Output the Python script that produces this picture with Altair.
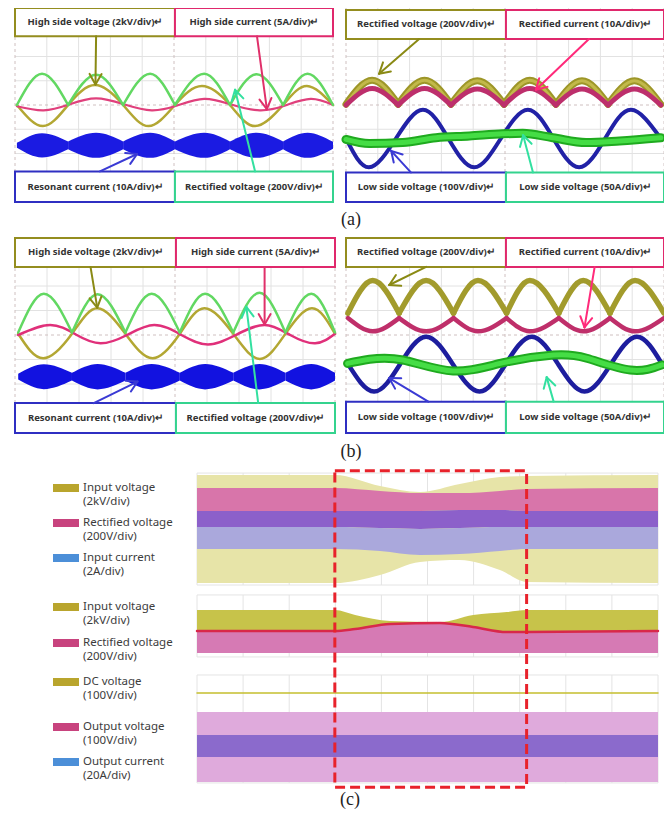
import math
import numpy as np
import altair as alt
import pandas as pd

# ====================== DATA (oscillogram readings, div units) ======================
# ---- (a) left : high side ----
AL_LABELS = ["High side voltage (2kV/div)↵", "High side current (5A/div)↵",
             "Resonant current (10A/div)↵", "Rectified voltage (200V/div)↵"]
AL_GREEN_ZERO_X = [0.06, 1.67, 3.40, 5.03, 6.76, 8.43, 10.0]
AL_GREEN_ZERO_Y = [0.0, 0.0, 0.0, 0.0, 0.0, 0.0, 0.0]
AL_GREEN_PEAK_X = [0.85, 2.55, 4.25, 5.95, 7.6, 9.2]
AL_GREEN_PEAK_Y = [1.29, 1.25, 1.29, 1.29, 1.27, 1.29]
AL_OLIVE_X = [0.06, 0.88, 1.67, 2.52, 3.40, 4.2, 5.03, 5.88, 6.76, 7.55, 8.43, 9.18, 10.0]
AL_OLIVE_Y = [0.0, -0.87, 0.0, 0.82, 0.0, -0.87, 0.0, 0.78, 0.0, -0.87, 0.0, 0.78, 0.0]
AL_PINK_X = [0.06, 0.9, 1.7, 2.55, 3.45, 4.3, 5.1, 5.95, 6.8, 7.7, 8.5, 9.3, 10.0]
AL_PINK_Y = [-0.05, -0.22, 0.02, 0.27, 0.02, -0.22, -0.02, 0.25, 0.02, -0.22, -0.02, 0.25, 0.0]
AL_BLUE_CENTER = -1.66
AL_BLUE_NODE_X = [0.06, 1.67, 3.40, 5.03, 6.76, 8.43, 10.0]
AL_BLUE_NODE_W = [0.10, 0.16, 0.16, 0.16, 0.16, 0.16, 0.14]
AL_BLUE_LOBE_X = [0.85, 2.55, 4.25, 5.95, 7.6, 9.2]
AL_BLUE_LOBE_W = [0.50, 0.52, 0.52, 0.52, 0.52, 0.52]

# ---- (a) right : rectifier / low side ----
AR_LABELS = ["Rectified voltage (200V/div)↵", "Rectified current (10A/div)↵",
             "Low side voltage (100V/div)↵", "Low side voltage (50A/div)↵"]
AR_OLIVE_ZERO_X = [0.0, 1.64, 3.30, 4.97, 6.6, 8.24, 9.9]
AR_OLIVE_ZERO_Y = [0.03, 0.03, 0.03, 0.03, 0.03, 0.03, 0.03]
AR_OLIVE_PEAK_X = [0.82, 2.47, 4.13, 5.78, 7.42, 9.07]
AR_OLIVE_PEAK_Y = [1.02, 1.02, 1.0, 1.02, 1.0, 1.0]
AR_PINK_ZERO_Y = [0.0, 0.0, 0.0, 0.0, 0.0, 0.0, 0.0]
AR_PINK_PEAK_Y = [0.68, 0.68, 0.66, 0.68, 0.66, 0.66]
AR_BLUE_X = [0.0, 0.72, 1.57, 2.42, 3.22, 4.03, 4.87, 5.72, 6.52, 7.33, 8.15, 8.96, 9.9]
AR_BLUE_Y = [-1.38, -2.57, -1.38, -0.2, -1.38, -2.57, -1.38, -0.2, -1.38, -2.57, -1.38, -0.2, -1.38]
AR_GREEN_X = [0.0, 0.73, 1.78, 2.83, 3.88, 4.93, 5.56, 6.5, 7.55, 8.6, 9.9]
AR_GREEN_Y = [-1.42, -1.59, -1.55, -1.35, -1.28, -1.19, -1.17, -1.35, -1.55, -1.48, -1.35]

# ---- (b) left ----
BL_GREEN_ZERO_X = [0.1, 1.78, 3.45, 5.15, 6.82, 8.45, 10.0]
BL_GREEN_ZERO_Y = [0.1, 0.1, 0.1, 0.1, 0.1, 0.1, 0.1]
BL_GREEN_PEAK_X = [0.9, 2.58, 4.27, 5.94, 7.64, 9.26]
BL_GREEN_PEAK_Y = [1.68, 1.66, 1.68, 1.68, 1.72, 1.68]
BL_OLIVE_X = [0.1, 0.88, 1.78, 2.57, 3.45, 4.3, 5.15, 5.92, 6.82, 7.65, 8.45, 9.28, 10.0]
BL_OLIVE_Y = [0.05, -0.95, 0.05, 1.09, 0.05, -0.95, 0.05, 1.09, 0.05, -0.98, 0.05, 1.09, 0.05]
BL_PINK_X = [0.1, 1.1, 1.9, 2.67, 3.5, 4.35, 5.2, 6.03, 6.9, 7.8, 8.6, 9.38, 10.0]
BL_PINK_Y = [0.0, 0.41, 0.02, -0.34, 0.0, 0.41, 0.0, -0.39, 0.0, 0.41, 0.0, -0.34, 0.05]
BL_BLUE_CENTER = -1.70
BL_BLUE_NODE_X = [0.1, 1.78, 3.45, 5.15, 6.82, 8.45, 10.0]
BL_BLUE_NODE_W = [0.12, 0.16, 0.16, 0.16, 0.16, 0.16, 0.16]
BL_BLUE_LOBE_X = [0.9, 2.58, 4.27, 5.94, 7.64, 9.26]
BL_BLUE_LOBE_W = [0.51, 0.52, 0.52, 0.52, 0.52, 0.52]

# ---- (b) right ----
BR_OLIVE_ZERO_X = [0.06, 1.67, 3.38, 5.05, 6.69, 8.3, 10.0]
BR_OLIVE_ZERO_Y = [0.89, 0.89, 0.89, 0.89, 0.89, 0.89, 0.89]
BR_OLIVE_PEAK_X = [0.84, 2.52, 4.15, 5.78, 7.46, 9.09]
BR_OLIVE_PEAK_Y = [2.22, 2.22, 2.22, 2.22, 2.22, 2.22]
BR_PINK_TOP_Y = [0.69, 0.69, 0.69, 0.69, 0.69, 0.69, 0.69]
BR_PINK_LOW_Y = [0.15, 0.15, 0.15, 0.15, 0.15, 0.15]
BR_BLUE_X = [0.05, 0.88, 1.7, 2.52, 3.36, 4.2, 5.02, 5.84, 6.67, 7.5, 8.33, 9.15, 9.94]
BR_BLUE_Y = [-1.16, -2.31, -1.19, -0.07, -1.19, -2.31, -1.19, -0.07, -1.19, -2.31, -1.19, -0.07, -1.19]
BR_GREEN_X = [0.05, 0.74, 1.79, 3.37, 4.95, 6.52, 7.57, 8.94, 9.94]
BR_GREEN_Y = [-1.16, -0.99, -1.02, -1.47, -1.13, -0.82, -0.95, -1.43, -1.22]

# ---- (c) long-record strips (x: div, y: div counted down from the top of the record) ----
C1_X = [0, 2.99, 3.97, 4.84, 5.7, 6.57, 7.15, 10]
C1_YEL_TOP = [0.38, 0.38, 1.21, 1.66, 1.06, 0.53, 0.45, 0.38]
C1_PINK_TOP = [1.36, 1.36, 1.58, 1.74, 1.74, 1.58, 1.43, 1.36]
C1_PINK_BOT = [3.09, 3.09, 3.09, 3.09, 3.02, 3.02, 3.09, 3.09]
C1_PURP_BOT = [4.30, 4.30, 4.38, 4.45, 4.38, 4.30, 4.30, 4.30]
C1_LAV_BOT = [5.96, 5.96, 6.11, 6.42, 6.34, 6.11, 5.96, 5.96]
C1_YEL_BOT = [8.53, 8.53, 7.92, 6.94, 6.79, 7.55, 8.45, 8.53]
C2_X = [0, 2.99, 3.43, 4.19, 5.27, 5.99, 6.72, 7.15, 10]
C2_YEL_TOP = [10.57, 10.57, 10.94, 11.40, 11.47, 10.94, 10.72, 10.57, 10.57]
C2_BOUND = [12.15, 12.15, 12.00, 11.62, 11.55, 11.85, 12.23, 12.23, 12.15]
C2_PINK_BOT = [13.81, 13.81, 13.81, 13.81, 13.81, 13.81, 13.81, 13.81, 13.81]
C3_X = [0, 10]
C3_DC = [16.83, 16.83]
C3_PINK_TOP = [18.26, 18.26]
C3_PINK_BOT = [23.55, 23.55]
C3_PURP_TOP = [20.0, 20.0]
C3_PURP_BOT = [21.66, 21.66]
C_HIGHLIGHT_X = [2.99, 7.15]

LEG_NAMES = ["Input voltage", "Rectified voltage", "Input current",
             "Input voltage", "Rectified voltage",
             "DC voltage", "Output voltage", "Output current"]
LEG_UNITS = ["(2kV/div)", "(200V/div)", "(2A/div)",
             "(2kV/div)", "(200V/div)",
             "\u00a0(100V/div)", "(100V/div)", "(20A/div)"]
LEG_KIND = ["olive", "pink", "blue", "olive", "pink", "olive", "pink", "blue"]
PANEL_TAGS = ["(a)", "(b)", "(c)"]

# ====================== STYLE / LAYOUT (page pixels) ======================
OLIVE_BOX, PINK_BOX, BLUE_BOX, TEAL_BOX = "#948d1f", "#e0286c", "#2f2fc2", "#34d38e"
LEG_COLORS = {"olive": "#b9a52d", "pink": "#c8437e", "blue": "#4c8fd8"}
FONT = "Noto Sans"
CH_W, CH_H = 656, 802
PAGE_X = alt.Scale(domain=[8, 8 + CH_W], nice=False, zero=False)
PAGE_Y = alt.Scale(domain=[8, 8 + CH_H], nice=False, zero=False, reverse=True)


def GX(f):
    return alt.X(f"{f}:Q", scale=PAGE_X, axis=None)


def GY(f):
    return alt.Y(f"{f}:Q", scale=PAGE_Y, axis=None)


class Scope:
    """A scope screen: 10 x 8 div, y=+4 at the top."""

    def __init__(self, x0, y0, w, h):
        self.x0, self.y0, self.w, self.h = x0, y0, w, h

    def px(self, x):
        return self.x0 + np.asarray(x, dtype=float) * self.w / 10.0

    def py(self, y):
        return self.y0 + (4.0 - np.asarray(y, dtype=float)) * self.h / 8.0


class Record:
    """The long record of (c): 10 div wide, y counted downward in div."""

    def __init__(self, x0, y0, w, ppd):
        self.x0, self.y0, self.w, self.ppd = x0, y0, w, ppd

    def px(self, x):
        return self.x0 + np.asarray(x, dtype=float) * self.w / 10.0

    def py(self, y):
        return self.y0 + np.asarray(y, dtype=float) * self.ppd


LAYERS = []


def place(p, df):
    df = df.copy()
    for c in ["x", "x2"]:
        if c in df:
            df["g" + c] = p.px(df[c])
    for c in ["y", "y2"]:
        if c in df:
            df["g" + c] = p.py(df[c])
    return df


def arches(zx, zy, px, py):
    rows = []
    for i in range(len(px)):
        rows += [(i, zx[i], zy[i]), (i, px[i], py[i]), (i, zx[i + 1], zy[i + 1])]
    return pd.DataFrame(rows, columns=["seg", "x", "y"])


def lobes(nx, nw, lx, lw, c):
    rows = []
    for i in range(len(lx)):
        rows += [(i, nx[i], c + nw[i], c - nw[i]), (i, lx[i], c + lw[i], c - lw[i]),
                 (i, nx[i + 1], c + nw[i + 1], c - nw[i + 1])]
    return pd.DataFrame(rows, columns=["seg", "x", "y", "y2"])


def line(p, df, color, width, interp="linear"):
    d = place(p, df)
    enc = dict(x=GX("gx"), y=GY("gy"))
    if "seg" in d.columns:
        enc["detail"] = "seg:N"
    LAYERS.append(alt.Chart(d).mark_line(color=color, strokeWidth=width, interpolate=interp,
                                         strokeCap="round").encode(**enc))


def area(p, df, color, interp="monotone"):
    d = place(p, df)
    enc = dict(x=GX("gx"), y=GY("gy"), y2="gy2:Q")
    if "seg" in d.columns:
        enc["detail"] = "seg:N"
    LAYERS.append(alt.Chart(d).mark_area(color=color, interpolate=interp).encode(**enc))


def rules(p, df, color, width=1, dash=None):
    d = place(p, df)
    kw = dict(color=color, strokeWidth=width)
    if dash:
        kw["strokeDash"] = dash
    LAYERS.append(alt.Chart(d).mark_rule(**kw).encode(
        x=GX("gx"), y=GY("gy"), x2="gx2:Q", y2="gy2:Q"))


def scope(p, labels, box_y, arrows):
    gv = pd.DataFrame({"x": [1, 2, 3, 4, 6, 7, 8, 9], "x2": [1, 2, 3, 4, 6, 7, 8, 9],
                       "y": [-4] * 8, "y2": [4] * 8})
    gh = pd.DataFrame({"y": [-3, -2, -1, 1, 2, 3], "y2": [-3, -2, -1, 1, 2, 3],
                       "x": [0] * 6, "x2": [10] * 6})
    rules(p, gv, "#e2e2e2")
    rules(p, gh, "#e2e2e2")
    cen = pd.DataFrame({"x": [0, 5, 10, 0], "x2": [10, 5, 10, 0],
                        "y": [0, -4, -4, -4], "y2": [0, 4, 4, 4]})
    rules(p, cen, "#cfc0c0", 1, [3, 3])


def boxes_and_arrows(p, labels, box_y, arrows):
    (t0, t1), (b0, b1) = box_y
    bx = pd.DataFrame({
        "x": [0, 5.03, 0, 5.03], "x2": [5.03, 10, 5.03, 10],
        "y": [t0, t0, b0, b0], "y2": [t1, t1, b1, b1],
        "c": [OLIVE_BOX, PINK_BOX, BLUE_BOX, TEAL_BOX], "t": labels,
    })
    bx["xm"] = (bx["x"] + bx["x2"]) / 2
    bx["ym"] = (bx["y"] + bx["y2"]) / 2
    d = place(p, bx)
    d["gxm"] = p.px(d["xm"])
    d["gym"] = p.py(d["ym"])
    LAYERS.append(alt.Chart(d).mark_rect(fill="white", strokeWidth=2).encode(
        x=GX("gx"), x2="gx2:Q", y=GY("gy"), y2="gy2:Q", stroke=alt.Stroke("c:N", scale=None)))
    LAYERS.append(alt.Chart(d).mark_text(font=FONT, fontSize=9.5, fontWeight="bold",
                                         color="#333333", baseline="middle").encode(
        x=GX("gxm"), y=GY("gym"), text="t:N"))
    rows = []
    for (x0, y0, x1, y1, col) in arrows:
        X0, Y0, X1, Y1 = float(p.px(x0)), float(p.py(y0)), float(p.px(x1)), float(p.py(y1))
        rows.append((X0, Y0, X1, Y1, col))
        ang = math.atan2(Y1 - Y0, X1 - X0)
        for s in (-1, 1):
            a = ang + s * math.radians(30)
            rows.append((X1 - 12 * math.cos(a), Y1 - 12 * math.sin(a), X1, Y1, col))
    ar = pd.DataFrame(rows, columns=["gx", "gy", "gx2", "gy2", "c"])
    LAYERS.append(alt.Chart(ar).mark_rule(strokeWidth=2, strokeCap="round").encode(
        x=GX("gx"), y=GY("gy"), x2="gx2:Q", y2="gy2:Q", color=alt.Color("c:N", scale=None)))


# ---------- (a) left ----------
P = Scope(15, 8, 318, 194)
scope(P, None, None, None)
line(P, pd.DataFrame({"x": AL_OLIVE_X, "y": AL_OLIVE_Y}), "#b3a733", 2.5, "natural")
line(P, pd.DataFrame({"x": AL_PINK_X, "y": AL_PINK_Y}), "#e0407c", 2.2, "natural")
line(P, arches(AL_GREEN_ZERO_X, AL_GREEN_ZERO_Y, AL_GREEN_PEAK_X, AL_GREEN_PEAK_Y), "#62d862", 2.5, "monotone")
area(P, lobes(AL_BLUE_NODE_X, AL_BLUE_NODE_W, AL_BLUE_LOBE_X, AL_BLUE_LOBE_W, AL_BLUE_CENTER), "#1b1be2")
boxes_and_arrows(P, AL_LABELS, ((2.83, 4.0), (-4.0, -2.74)), [
    (2.55, 2.83, 2.53, 0.85, "#8a8a14"),
    (7.61, 2.83, 7.92, -0.17, "#e0306a"),
    (2.67, -2.74, 3.84, -2.02, "#3a3ad4"),
    (7.55, -2.74, 6.92, 0.63, "#33e0a0"),
])

# ---------- (a) right ----------
P = Scope(346, 8, 318, 194)
scope(P, None, None, None)
line(P, arches(AR_OLIVE_ZERO_X, AR_OLIVE_ZERO_Y, AR_OLIVE_PEAK_X, AR_OLIVE_PEAK_Y), "#9d9628", 7, "monotone")
line(P, arches(AR_OLIVE_ZERO_X, AR_OLIVE_ZERO_Y, AR_OLIVE_PEAK_X, AR_OLIVE_PEAK_Y), "#c2b94a", 3, "monotone")
line(P, arches(AR_OLIVE_ZERO_X, AR_PINK_ZERO_Y, AR_OLIVE_PEAK_X, AR_PINK_PEAK_Y), "#bd2f6c", 5, "monotone")
line(P, pd.DataFrame({"x": AR_BLUE_X, "y": AR_BLUE_Y}), "#2121a6", 4, "natural")
line(P, pd.DataFrame({"x": AR_GREEN_X, "y": AR_GREEN_Y}), "#1faa1f", 9, "monotone")
line(P, pd.DataFrame({"x": AR_GREEN_X, "y": AR_GREEN_Y}), "#45dd45", 5, "monotone")
boxes_and_arrows(P, AR_LABELS, ((2.72, 3.92), (-4.0, -2.78)), [
    (2.3, 2.72, 1.04, 1.29, "#8a8a14"),
    (7.64, 2.72, 5.97, 0.63, "#ff2a7a"),
    (2.04, -2.78, 1.42, -1.89, "#3a3ad4"),
    (5.88, -2.78, 5.57, -1.25, "#33e0a0"),
])

# ---------- (b) left ----------
P = Scope(15, 237, 320, 196)
scope(P, None, None, None)
line(P, pd.DataFrame({"x": BL_OLIVE_X, "y": BL_OLIVE_Y}), "#b3a733", 2.5, "natural")
line(P, pd.DataFrame({"x": BL_PINK_X, "y": BL_PINK_Y}), "#e0307a", 2.5, "natural")
line(P, arches(BL_GREEN_ZERO_X, BL_GREEN_ZERO_Y, BL_GREEN_PEAK_X, BL_GREEN_PEAK_Y), "#62d862", 2.5, "monotone")
area(P, lobes(BL_BLUE_NODE_X, BL_BLUE_NODE_W, BL_BLUE_LOBE_X, BL_BLUE_LOBE_W, BL_BLUE_CENTER), "#1212e0")
boxes_and_arrows(P, AL_LABELS, ((2.78, 3.96), (-4.0, -2.78)), [
    (2.36, 2.78, 2.57, 1.12, "#8a8a14"),
    (7.8, 2.78, 7.8, 0.43, "#e0306a"),
    (2.46, -2.78, 3.83, -1.9, "#3a3ad4"),
    (7.6, -2.78, 7.23, 1.15, "#33e0a0"),
])

# ---------- (b) right ----------
P = Scope(346, 237, 318, 196)
scope(P, None, None, None)
br_pink = []
for i in range(len(BR_OLIVE_PEAK_X)):
    br_pink += [(i, BR_OLIVE_ZERO_X[i], BR_PINK_TOP_Y[i]), (i, BR_OLIVE_PEAK_X[i], BR_PINK_LOW_Y[i]),
                (i, BR_OLIVE_ZERO_X[i + 1], BR_PINK_TOP_Y[i + 1])]
line(P, arches(BR_OLIVE_ZERO_X, BR_OLIVE_ZERO_Y, BR_OLIVE_PEAK_X, BR_OLIVE_PEAK_Y), "#a29b2c", 5.5, "monotone")
line(P, pd.DataFrame(br_pink, columns=["seg", "x", "y"]), "#bf2f6a", 4.5, "monotone")
line(P, pd.DataFrame({"x": BR_BLUE_X, "y": BR_BLUE_Y}), "#1d1d9e", 4.5, "natural")
line(P, pd.DataFrame({"x": BR_GREEN_X, "y": BR_GREEN_Y}), "#1faa1f", 9, "natural")
line(P, pd.DataFrame({"x": BR_GREEN_X, "y": BR_GREEN_Y}), "#45dd45", 5, "natural")
boxes_and_arrows(P, AR_LABELS, ((2.78, 3.96), (-4.0, -2.72)), [
    (2.52, 2.78, 1.36, 2.04, "#8a8a14"),
    (7.82, 2.78, 7.5, 0.31, "#ff2a7a"),
    (2.59, -2.72, 1.36, -1.76, "#3a3ad4"),
    (6.53, -2.72, 6.31, -1.72, "#33e0a0"),
])

# ---------- (c) record ----------
R = Record(197, 470, 461, 13.25)
frames = [(0.23, 8.68), (9.43, 14.11), (15.47, 23.62)]
gl = []
for (a, b) in frames:
    for gx in range(0, 11):
        gl.append((gx, a, gx, b))
    gl.append((0, a, 10, a))
    gl.append((0, b, 10, b))
rules(R, pd.DataFrame(gl, columns=["x", "y", "x2", "y2"]), "#e4e4e4")


def cband(xs, top, bot, color):
    area(R, pd.DataFrame({"x": xs, "y": top, "y2": bot}), color)


cband(C1_X, C1_YEL_TOP, C1_YEL_BOT, "#e7e4a8")
cband(C1_X, C1_PINK_TOP, C1_PINK_BOT, "#d875aa")
cband(C1_X, C1_PINK_BOT, C1_PURP_BOT, "#8c60ca")
cband(C1_X, C1_PURP_BOT, C1_LAV_BOT, "#aaa8dc")
cband(C2_X, C2_YEL_TOP, C2_BOUND, "#c7c34a")
cband(C2_X, C2_BOUND, C2_PINK_BOT, "#d67ab4")
line(R, pd.DataFrame({"x": C2_X, "y": C2_BOUND}), "#d8284a", 2.5, "monotone")
cband(C3_X, C3_PINK_TOP, C3_PINK_BOT, "#dfaadc")
cband(C3_X, C3_PURP_TOP, C3_PURP_BOT, "#8b6acc")
line(R, pd.DataFrame({"x": C3_X, "y": C3_DC}), "#c5bf2e", 1.5)
hb = place(R, pd.DataFrame({"x": [C_HIGHLIGHT_X[0]], "x2": [C_HIGHLIGHT_X[1]], "y": [0.05], "y2": [23.95]}))
LAYERS.append(alt.Chart(hb).mark_rect(fillOpacity=0, stroke="#e8222b", strokeWidth=3,
                                      strokeDash=[10, 5]).encode(
    x=GX("gx"), x2="gx2:Q", y=GY("gy"), y2="gy2:Q"))

# ---------- (c) legend ----------
ROW_Y = [488, 523, 558, 607, 643, 682, 727, 762]
leg = pd.DataFrame({"name": LEG_NAMES, "unit": LEG_UNITS,
                    "col": [LEG_COLORS[k] for k in LEG_KIND], "ry": ROW_Y})
leg["ry2"] = leg["ry"] + 14
leg["s0"] = leg["ry"] - 4
leg["s1"] = leg["ry"] + 4
leg["sx0"] = 53
leg["sx1"] = 79
leg["tx"] = 83
LAYERS.append(alt.Chart(leg).mark_rect().encode(
    x=GX("sx0"), x2="sx1:Q", y=GY("s0"), y2="s1:Q", color=alt.Color("col:N", scale=None)))
LAYERS.append(alt.Chart(leg).mark_text(align="left", baseline="middle", font=FONT, fontSize=11.5,
                                       color="#3c3c3c").encode(x=GX("tx"), y=GY("ry"), text="name:N"))
LAYERS.append(alt.Chart(leg).mark_text(align="left", baseline="middle", font=FONT, fontSize=11.5,
                                       color="#3c3c3c").encode(x=GX("tx"), y=GY("ry2"), text="unit:N"))

# ---------- panel tags ----------
tags = pd.DataFrame({"t": PANEL_TAGS, "tx": [351, 351, 350], "ty": [220, 452, 800]})
LAYERS.append(alt.Chart(tags).mark_text(font="Liberation Serif", fontSize=18, color="#222222",
                                        baseline="middle", align="center").encode(
    x=GX("tx"), y=GY("ty"), text="t:N"))

chart = alt.layer(*LAYERS).properties(
    width=CH_W, height=CH_H, autosize="none", padding=0, background="white"
).configure_view(stroke=None, strokeWidth=0)

chart.save("out.html", embed_options={"renderer": "svg", "actions": False})
